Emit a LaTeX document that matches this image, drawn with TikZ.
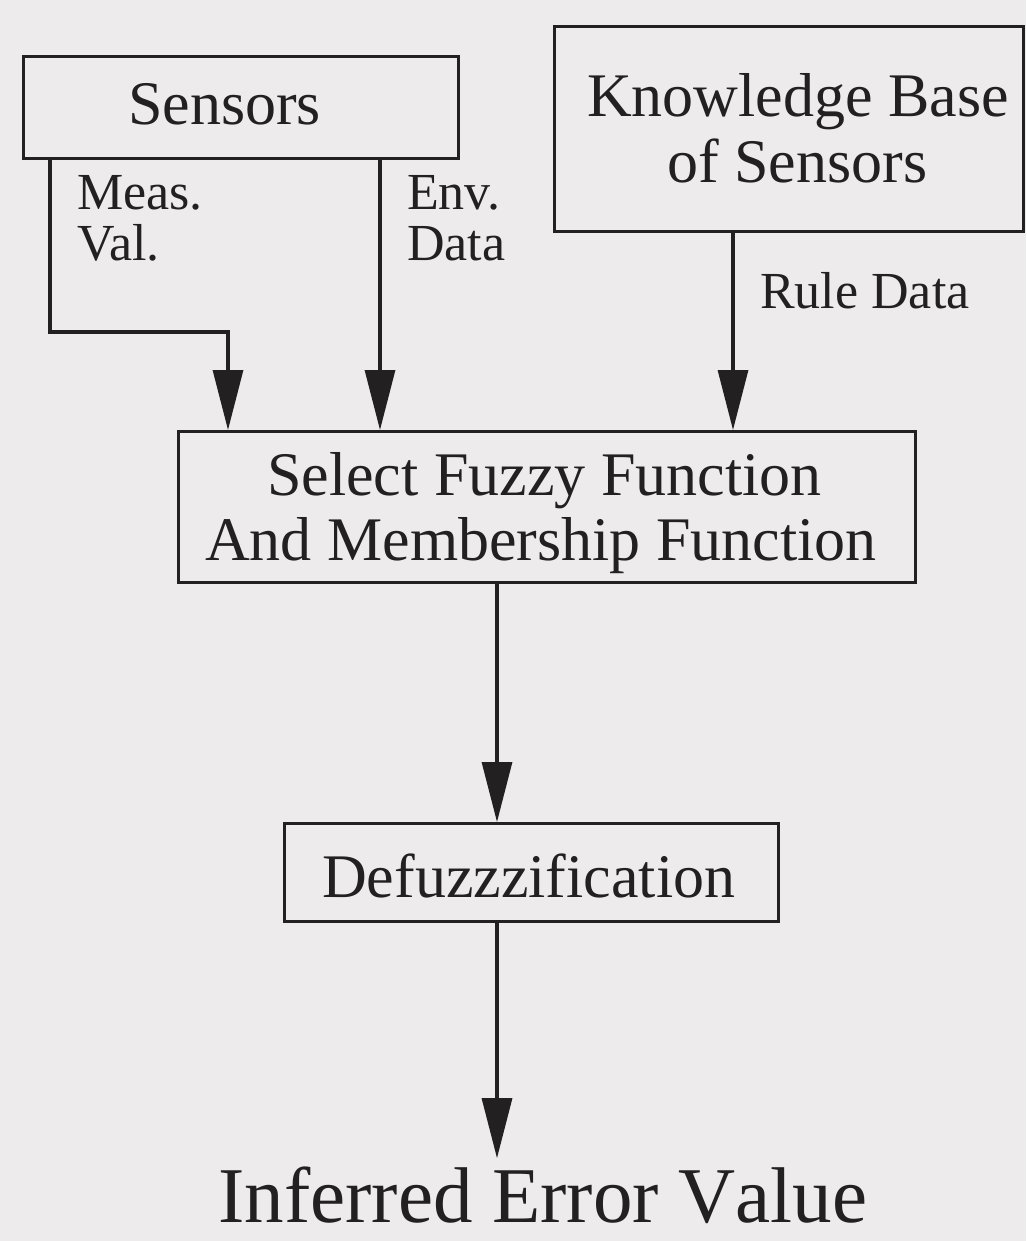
\documentclass[tikz,border=0pt]{standalone}
\usepackage{fontspec}
\setmainfont{Liberation Serif}
\usetikzlibrary{arrows.meta}
\definecolor{paper}{RGB}{238,235,236}
\definecolor{ink}{RGB}{35,32,34}
\begin{document}
\begin{tikzpicture}[x=1pt,y=-1pt,
  box/.style={draw=ink, line width=3.2pt, inner sep=0pt, anchor=north west},
  boxtext/.style={font=\fontsize{62}{62}\selectfont, text=ink, inner sep=0pt, anchor=base west},
  tag/.style={font=\fontsize{52}{52}\selectfont, text=ink, inner sep=0pt, anchor=base west},
  outtext/.style={font=\fontsize{79}{79}\selectfont\addfontfeature{Kerning=Off}, text=ink, inner sep=0pt, anchor=base west},
  flow/.style={draw=ink, line width=3.2pt, -{Triangle[length=60pt,width=30pt]}},
]
% page
\fill[paper] (0,0) rectangle (1026,1241);
\useasboundingbox (0,0) rectangle (1026,1241);

% boxes
\node[box, minimum width=435pt, minimum height=102pt] (sensors) at (22,55) {};
\node[box, minimum width=469pt, minimum height=205pt] (kb) at (553,25) {};
\node[box, minimum width=737pt, minimum height=151pt] (select) at (177,430) {};
\node[box, minimum width=494pt, minimum height=98pt] (defuzz) at (283,822) {};

% box captions
\node[boxtext] (sensorsT) at (128,125) {Sensors};
\node[boxtext] (kbT1) at (587,117) {Knowledge Base};
\node[boxtext] (kbT2) at (667,183) {of Sensors};
\node[boxtext] (selT1) at (267,495) {Select Fuzzy Function};
\node[boxtext] (selT2) at (205,560) {And Membership Function};
\node[boxtext] (defT) at (322,897) {Defuzzzification};

% final output
\node[outtext] (result) at (218,1222) {Inferred Error Value};

% connector labels
\node[tag] (measT1) at (77,210) {Meas.};
\node[tag] (measT2) at (77,260) {Val.};
\node[tag] (envT1) at (407,210) {Env.};
\node[tag] (envT2) at (407,260) {Data};
\node[tag] (ruleT) at (760,308) {Rule Data};

% connectors
\coordinate (measX) at (50,0);
\coordinate (measDrop) at (228,332);
\coordinate (envX) at (380,0);
\coordinate (ruleX) at (733,0);
\coordinate (midX) at (497,0);

\draw[flow] (sensors.south -| measX) |- (measDrop) -- (measDrop |- select.north);
\draw[flow] (sensors.south -| envX) -- (select.north -| envX);
\draw[flow] (kb.south -| ruleX) -- (select.north -| ruleX);
\draw[flow] (select.south -| midX) -- (defuzz.north -| midX);
\draw[flow] (defuzz.south -| midX) -- ([yshift=8pt]result.north -| midX);
\end{tikzpicture}
\end{document}
